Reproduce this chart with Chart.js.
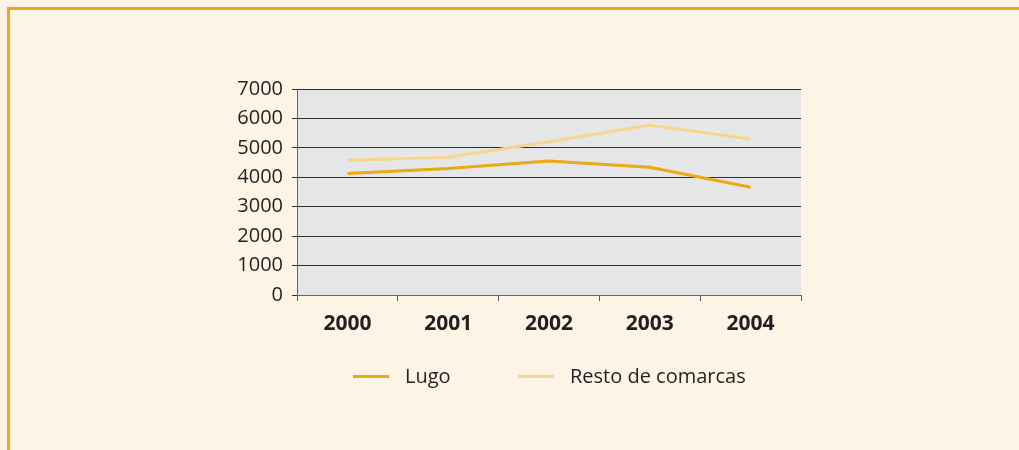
<!DOCTYPE html>
<html>
<head>
<meta charset="utf-8">
<script src="https://cdn.jsdelivr.net/npm/chart.js@4.4.1/dist/chart.umd.min.js"></script>
<style>
  body { margin: 0; background: #fdf4e5; }
  #marco {
    position: absolute; left: 7px; top: 7px; width: 1012px; height: 443px;
    border-top: 3px solid #e9a91a; border-left: 3px solid #e9a91a; box-sizing: border-box;
  }
  #wrap { position: absolute; left: 0; top: 0; width: 1019px; height: 450px; }
  #leyenda { position: absolute; top: 362px; left: 0; width: 1019px; font: 20px "Open Sans", sans-serif; color: #231f20; }
  .item { position: absolute; top: 0; white-space: nowrap; }
  .item span.linea { display: inline-block; width: 36px; height: 3px; vertical-align: middle; margin-right: 16px; position: relative; top: -1px; }
</style>
</head>
<body>
<div id="marco"></div>
<div id="wrap"><canvas id="grafica" width="1019" height="450"></canvas></div>
<div id="leyenda"></div>
<script>
// Datos
const anios = ['2000', '2001', '2002', '2003', '2004'];
const lugo = [4130, 4300, 4550, 4340, 3660];
const restoComarcas = [4580, 4680, 5210, 5770, 5300];
const ticksY = [0, 1000, 2000, 3000, 4000, 5000, 6000, 7000];

const colorLugo = '#e9aa12';
const colorResto = '#f8d48e';

// Fondo gris solo en el área del gráfico
const fondoArea = {
    id: 'fondoArea',
    beforeDraw: (chart) => {
        const { ctx, chartArea } = chart;
        ctx.save();
        ctx.fillStyle = '#e5e6e7';
        ctx.fillRect(chartArea.left, chartArea.top, chartArea.right - chartArea.left, chartArea.bottom - chartArea.top);
        ctx.restore();
    }
};

const ctx = document.getElementById('grafica').getContext('2d');
const grafica = new Chart(ctx, {
    type: 'line',
    data: {
        labels: anios,
        datasets: [{
            label: 'Lugo',
            data: lugo,
            borderColor: colorLugo,
            borderWidth: 3,
            pointRadius: 0,
            tension: 0,
            fill: false
        }, {
            label: 'Resto de comarcas',
            data: restoComarcas,
            borderColor: colorResto,
            borderWidth: 3,
            pointRadius: 0,
            tension: 0,
            fill: false
        }]
    },
    options: {
        responsive: false,
        animation: false,
        layout: { padding: { left: 0, right: 218, top: 89, bottom: 0 } },
        plugins: {
            legend: { display: false },
            tooltip: { enabled: false }
        },
        scales: {
            x: {
                offset: true,
                grid: { offset: true, display: true, drawOnChartArea: false, color: '#555', tickLength: 6 },
                border: { color: '#666', width: 1 },
                ticks: {
                    color: '#231f20',
                    font: { family: 'Open Sans', size: 21, weight: 'bold' },
                    padding: 10
                },
                afterFit: (scale) => { scale.height = 155; }
            },
            y: {
                min: 0,
                max: 7000,
                afterBuildTicks: (scale) => { scale.ticks = ticksY.map(v => ({ value: v })); },
                grid: { color: '#2e2e2e', lineWidth: 1, tickLength: 5 },
                border: { color: '#666', width: 1 },
                ticks: {
                    color: '#231f20',
                    font: { family: 'Open Sans', size: 20 },
                    padding: 9,
                    callback: (v) => String(v)
                },
                afterFit: (scale) => { scale.width = 297; }
            }
        }
    },
    plugins: [fondoArea]
});

// Leyenda en HTML a partir de los datasets
const leyenda = document.getElementById('leyenda');
const posiciones = [353, 518];
grafica.data.datasets.forEach((ds, i) => {
    leyenda.insertAdjacentHTML('beforeend',
        `<div class="item" style="left:${posiciones[i]}px"><span class="linea" style="background:${ds.borderColor}"></span>${ds.label}</div>`);
});
</script>
</body>
</html>
